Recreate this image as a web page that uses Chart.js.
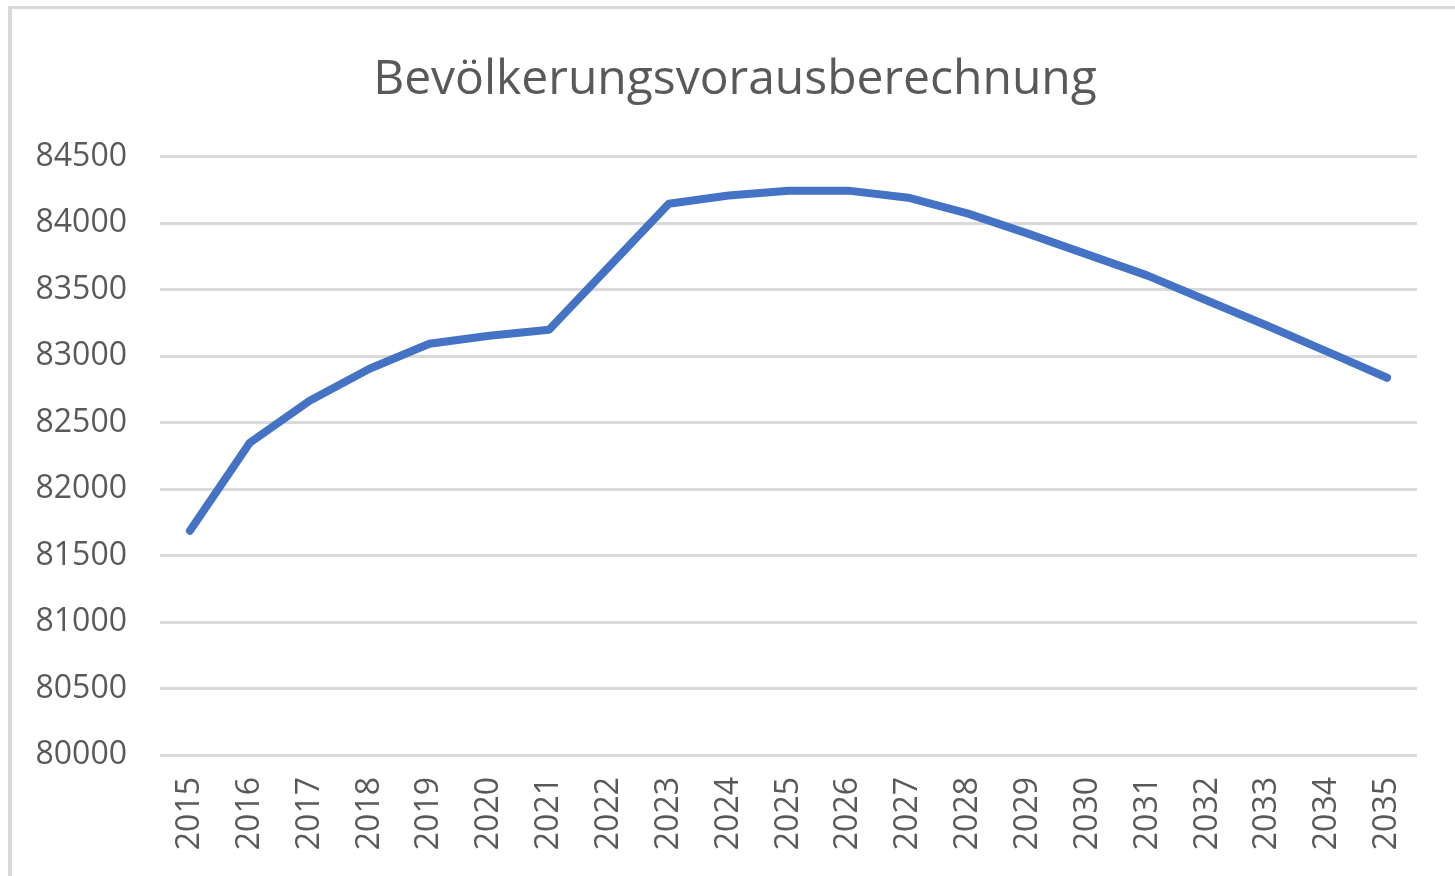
<!DOCTYPE html>
<html>
<head>
<meta charset="utf-8">
<script src="https://cdn.jsdelivr.net/npm/chart.js@4.4.1/dist/chart.umd.min.js"></script>
<style>
    html, body { margin: 0; padding: 0; background: #fff; }
    #wrap { position: relative; width: 1455px; height: 876px; overflow: hidden; }
    #frame {
        position: absolute; left: 8px; top: 6px; width: 1460px; height: 880px;
        border-left: 4px solid #d9d9d9; border-top: 3px solid #d9d9d9;
    }
    #chartBox { position: absolute; left: 0; top: 0; width: 1455px; height: 876px; }
</style>
</head>
<body>
<div id="wrap">
    <div id="frame"></div>
    <div id="chartBox"><canvas id="popChart"></canvas></div>
</div>
<script>
// Jahre und Bevölkerung (in Tausend)
const years = ['2015', '2016', '2017', '2018', '2019', '2020', '2021', '2022', '2023', '2024',
               '2025', '2026', '2027', '2028', '2029', '2030', '2031', '2032', '2033', '2034', '2035'];
const population = [81686, 82348, 82664, 82905, 83093, 83153, 83198, 83672, 84146, 84207,
                    84244, 84244, 84191, 84071, 83921, 83763, 83605, 83416, 83228, 83033, 82837];
const yTicks = [80000, 80500, 81000, 81500, 82000, 82500, 83000, 83500, 84000, 84500];

const textColor = '#595959';
const fontFamily = "'Open Sans', 'Noto Sans', sans-serif";

// the original title sits a bit right of the plot centre
const shiftTitle = {
    id: 'shiftTitle',
    afterLayout(chart) {
        if (chart.titleBlock) {
            chart.titleBlock.left += 53;
        }
    }
};

window.onload = function () {
    const ctx = document.getElementById('popChart').getContext('2d');
    new Chart(ctx, {
        type: 'line',
        data: {
            labels: years,
            datasets: [{
                label: 'Bevölkerung',
                data: population,
                borderColor: '#4472C4',
                borderWidth: 8,
                borderCapStyle: 'round',
                borderJoinStyle: 'round',
                pointRadius: 0,
                tension: 0,
                fill: false
            }]
        },
        options: {
            responsive: true,
            maintainAspectRatio: false,
            animation: false,
            layout: { padding: { left: 0, right: 38, top: 0, bottom: 0 } },
            plugins: {
                legend: { display: false },
                tooltip: { enabled: false },
                title: {
                    display: true,
                    text: 'Bevölkerungsvorausberechnung',
                    color: textColor,
                    font: { family: fontFamily, size: 48, weight: 'normal' },
                    padding: { top: 52, bottom: 47 }
                }
            },
            scales: {
                x: {
                    offset: true,
                    grid: { display: false, drawTicks: false },
                    border: { display: false },
                    ticks: {
                        color: textColor,
                        font: { family: fontFamily, size: 32 },
                        minRotation: 90,
                        maxRotation: 90,
                        padding: 22
                    },
                    afterFit: function (scale) { scale.height = 121; }
                },
                y: {
                    min: 80000,
                    max: 84500,
                    afterBuildTicks: function (scale) {
                        scale.ticks = yTicks.map(v => ({ value: v }));
                    },
                    grid: { color: '#d9d9d9', lineWidth: 3, drawTicks: false },
                    border: { display: false },
                    ticks: {
                        color: textColor,
                        font: { family: fontFamily, size: 32 },
                        padding: 33,
                        callback: function (value) { return String(value); }
                    },
                    afterFit: function (scale) { scale.width = 160; }
                }
            }
        },
        plugins: [shiftTitle]
    });
};
</script>
</body>
</html>
